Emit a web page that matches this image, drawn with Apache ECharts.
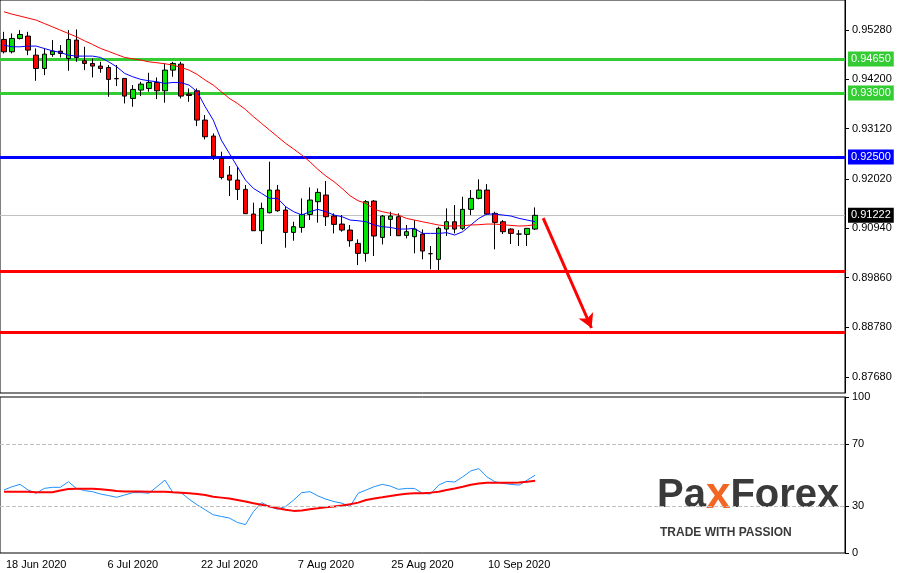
<!DOCTYPE html>
<html><head><meta charset="utf-8">
<script src="https://cdn.jsdelivr.net/npm/echarts@6/dist/echarts.min.js"></script>
<style>html,body{margin:0;padding:0;background:#fff}#c{width:909px;height:573px}</style>
</head><body><div id="c"></div>
<script>
// OHLC: [open, close, low, high]
const opens  = [.95076,.94806,.95098,.95149,.94732,.94440,.94747,.94820,.94659,.95061,.94608,.94550,.94492,.94462,.94221,.94221,.93784,.93966,.94002,.94134,.93951,.94404,.94535,.93878,.93951,.93309,.92959,.92469,.92104,.91995,.91791,.91250,.90885,.91279,.91776,.91338,.90849,.90958,.91243,.91521,.91667,.91207,.91031,.90900,.90608,.90389,.91535,.90739,.91134,.91192,.90783,.90754,.90812,.90382,.90258,.90922,.91082,.90937,.91353,.91594,.91776,.91265,.91082,.90922,.90812,.90805,.90922];
const closes = [.94806,.95098,.95185,.94842,.94440,.94754,.94820,.94769,.95076,.94681,.94550,.94492,.94440,.94200,.94214,.93835,.93981,.94097,.94134,.93951,.94404,.94550,.93835,.93849,.93309,.92944,.92521,.92053,.91995,.91791,.91259,.90885,.91374,.91776,.91323,.90849,.90973,.91243,.91557,.91725,.91192,.91024,.90900,.90666,.90389,.91521,.90769,.91207,.91207,.90776,.90864,.90922,.90440,.90382,.90937,.91082,.90922,.91353,.91594,.91776,.91250,.91068,.90864,.90827,.90812,.90937,.91222];
const highs  = [.95243,.95207,.95280,.95243,.94878,.94878,.95061,.94952,.95280,.95295,.94915,.94659,.94586,.94514,.94514,.94221,.94076,.94149,.94346,.94243,.94550,.94586,.94586,.94002,.94002,.93419,.93017,.92616,.92302,.92287,.91886,.91499,.91499,.92397,.91886,.91411,.91082,.91594,.91834,.91812,.91973,.91265,.91229,.91010,.90696,.91557,.91557,.91229,.91302,.91265,.91010,.91119,.90915,.90550,.90973,.91375,.91448,.91630,.91776,.92010,.91907,.91302,.91119,.90937,.90900,.90937,.91396];
const lows   = [.94769,.94769,.95076,.94732,.94170,.94294,.94696,.94681,.94389,.94586,.94404,.94243,.94346,.93820,.94054,.93674,.93601,.93835,.93930,.93769,.93689,.94258,.93784,.93710,.93178,.92886,.92433,.92009,.91645,.91557,.91250,.90885,.90593,.91265,.91301,.90513,.90666,.90842,.91119,.91061,.90988,.90827,.90864,.90535,.90133,.90207,.90331,.90586,.90769,.90769,.90717,.90389,.90258,.90039,.90024,.90769,.90827,.90900,.91229,.91572,.91229,.90477,.90812,.90593,.90550,.90550,.90900];
const maFast = [.94951,.94915,.94915,.94930,.94930,.94878,.94827,.94791,.94732,.94711,.94711,.94711,.94681,.94586,.94477,.94331,.94258,.94200,.94170,.94149,.94112,.94134,.94127,.94076,.93930,.93601,.93309,.92871,.92579,.92287,.91995,.91812,.91703,.91594,.91594,.91411,.91302,.91229,.91302,.91353,.91302,.91229,.91192,.91119,.91104,.91082,.91010,.90973,.90958,.90922,.90922,.90937,.90827,.90827,.90827,.90842,.90791,.90864,.91010,.91156,.91250,.91250,.91229,.91207,.91156,.91119,.91082];
const maSlow = [.95682,.95630,.95587,.95543,.95499,.95426,.95353,.95280,.95207,.95134,.95046,.94966,.94878,.94813,.94747,.94681,.94652,.94623,.94586,.94565,.94543,.94514,.94462,.94404,.94309,.94185,.94076,.93930,.93784,.93674,.93543,.93382,.93236,.93090,.92944,.92798,.92674,.92543,.92397,.92229,.92083,.91959,.91813,.91652,.91542,.91484,.91353,.91302,.91265,.91229,.91156,.91119,.91082,.91046,.91010,.90988,.90988,.90995,.91010,.91017,.91031,.91031,.91017,.91002,.90988,.90995,.91017];
const rsi = [40.4,42.5,44.0,40.4,38.3,41.4,42.1,42.1,45.7,41.4,40.0,39.3,37.8,36.8,35.7,37.2,38.7,38.7,38.3,42.5,46.7,38.7,38.7,34.5,30.9,27.7,24.5,23.4,22.4,19.6,18.2,26.6,32.3,29.8,28.1,29.8,34.0,38.7,39.3,36.6,34.5,33.0,31.9,29.8,38.3,40.4,42.5,44.0,42.9,40.8,41.4,41.4,38.3,37.8,43.5,45.9,45.5,48.8,52.6,54.1,48.8,45.7,44.6,44.0,43.5,46.7,49.9];
const rsiSignal = [39.3,39.3,39.3,39.3,38.9,38.9,38.9,40.0,41.0,41.2,41.2,41.2,40.8,40.4,39.7,39.5,39.5,39.5,39.3,39.3,39.3,38.9,38.7,38.3,37.8,37.2,36.1,35.5,34.9,34.0,33.0,31.9,30.9,29.8,28.7,27.7,27.0,27.3,28.1,28.7,29.4,29.8,30.4,31.3,32.3,34.0,34.9,35.7,36.6,37.4,38.0,38.3,38.3,38.7,39.3,40.4,41.4,42.5,43.8,44.6,45.0,45.0,45.0,45.0,45.2,45.7,46.3];
const priceTicks = [0.95280,0.94200,0.93120,0.92020,0.90940,0.89860,0.88780,0.87680];
const rsiTicks = [0,30,70,100];
const shownDates = ['18 Jun 2020','6 Jul 2020','22 Jul 2020','7 Aug 2020','25 Aug 2020','10 Sep 2020'];
const levelsGreen = [0.94650,0.93900];
const levelBlue = 0.92500;
const levelsRed = [0.90000,0.88650];
const lastPrice = 0.91222;
const arrowFrom = [67,0.91163], arrowTo = [73,0.88754];

const MON=['Jan','Feb','Mar','Apr','May','Jun','Jul','Aug','Sep','Oct','Nov','Dec'];
const cats=[];{let d=new Date(Date.UTC(2020,5,12));while(cats.length<105){const w=d.getUTCDay();if(w!==0&&w!==6)cats.push(d.getUTCDate()+' '+MON[d.getUTCMonth()]+' '+d.getUTCFullYear());d=new Date(d.getTime()+86400000);}}
const ohlc = opens.map((o,i)=>[o,closes[i],lows[i],highs[i]]);
const lvl=(v,c,label)=>({yAxis:v,lineStyle:{color:c,width:3,type:'solid'},label:label?{show:true,position:'end',formatter:v.toFixed(5),backgroundColor:c,color:'#fff',padding:[2,3],fontSize:11,distance:3}:{show:false}});
const chart=echarts.init(document.getElementById('c'));
const font='Liberation Sans, Arial, sans-serif';
chart.setOption({
  animation:false,
  textStyle:{fontFamily:font},
  grid:[{left:0,right:64,top:0,height:393,show:true,borderColor:'#000',borderWidth:1},
        {left:0,right:64,top:397,height:156,show:true,borderColor:'#000',borderWidth:1}],
  xAxis:[{type:'category',gridIndex:0,data:cats,boundaryGap:true,axisLabel:{show:false},axisTick:{show:false},axisLine:{show:false}},
         {type:'category',gridIndex:1,data:cats,boundaryGap:true,axisLine:{show:false},axisTick:{show:false},
          axisLabel:{interval:(i,v)=>shownDates.includes(v),color:'#000',fontSize:11,margin:6}}],
  yAxis:[{type:'value',gridIndex:0,position:'right',min:0.8733,max:0.9594,splitLine:{show:false},
          axisLine:{show:true,lineStyle:{color:'#000'}},axisTick:{show:true,length:4,customValues:priceTicks,lineStyle:{color:'#000'}},
          axisLabel:{customValues:priceTicks,formatter:v=>v.toFixed(5),color:'#000',fontSize:11,margin:7}},
         {type:'value',gridIndex:1,position:'right',min:0,max:100,splitLine:{show:false},
          axisLine:{show:true,lineStyle:{color:'#000'}},axisTick:{show:true,length:4,customValues:rsiTicks,lineStyle:{color:'#000'}},
          axisLabel:{customValues:rsiTicks,color:'#000',fontSize:11,margin:7}}],
  series:[
    {type:'candlestick',xAxisIndex:0,yAxisIndex:0,data:ohlc,barWidth:5,z:4,
     itemStyle:{color:'#00e600',color0:'#ff0000',borderColor:'#000',borderColor0:'#000',borderWidth:1}},
    {type:'line',xAxisIndex:0,yAxisIndex:0,data:maFast,showSymbol:false,lineStyle:{color:'#0000ff',width:1},z:5,
     markLine:{symbol:'none',silent:true,animation:false,precision:5,z:2,data:[
       lvl(levelsGreen[0],'#33cc33',true),lvl(levelsGreen[1],'#33cc33',true),lvl(levelBlue,'#0000ff',true),
       lvl(levelsRed[0],'#ff0000',false),lvl(levelsRed[1],'#ff0000',false),
       {yAxis:lastPrice,lineStyle:{color:'#c0c0c0',width:1,type:'solid'},label:{show:true,position:'end',formatter:lastPrice.toFixed(5),backgroundColor:'#000',color:'#fff',padding:[2,3],fontSize:11,distance:3}},
       [{coord:arrowFrom,symbol:'none'},{coord:arrowTo,symbol:'arrow',symbolSize:[12,14],lineStyle:{color:'#ff0000',width:3,type:'solid'},label:{show:false}}]
     ]}},
    {type:'line',xAxisIndex:0,yAxisIndex:0,data:maSlow,showSymbol:false,lineStyle:{color:'#ff0000',width:1},z:5},
    {type:'line',xAxisIndex:1,yAxisIndex:1,data:rsi,showSymbol:false,lineStyle:{color:'#1e90ff',width:1},
     markLine:{symbol:'none',silent:true,label:{show:false},lineStyle:{color:'#c0c0c0',type:'dashed',width:1},data:[{yAxis:70},{yAxis:30}]}},
    {type:'line',xAxisIndex:1,yAxisIndex:1,data:rsiSignal,showSymbol:false,lineStyle:{color:'#ff0000',width:2}}
  ],
  graphic:[
    {type:'text',left:657,top:474,style:{text:'{a|Pa}{b|x}{a|Forex}',rich:{a:{fontSize:40,fontWeight:'bold',fill:'#3a3a3a',fontFamily:font},b:{fontSize:44,fontWeight:'bold',fill:'#f26522',fontFamily:font}}}},
    {type:'text',left:660,top:527,style:{text:'TRADE WITH PASSION',fontSize:12,fontWeight:'bold',fill:'#3a3a3a',fontFamily:font,letterSpacing:3.3}}
  ]
});
</script></body></html>
